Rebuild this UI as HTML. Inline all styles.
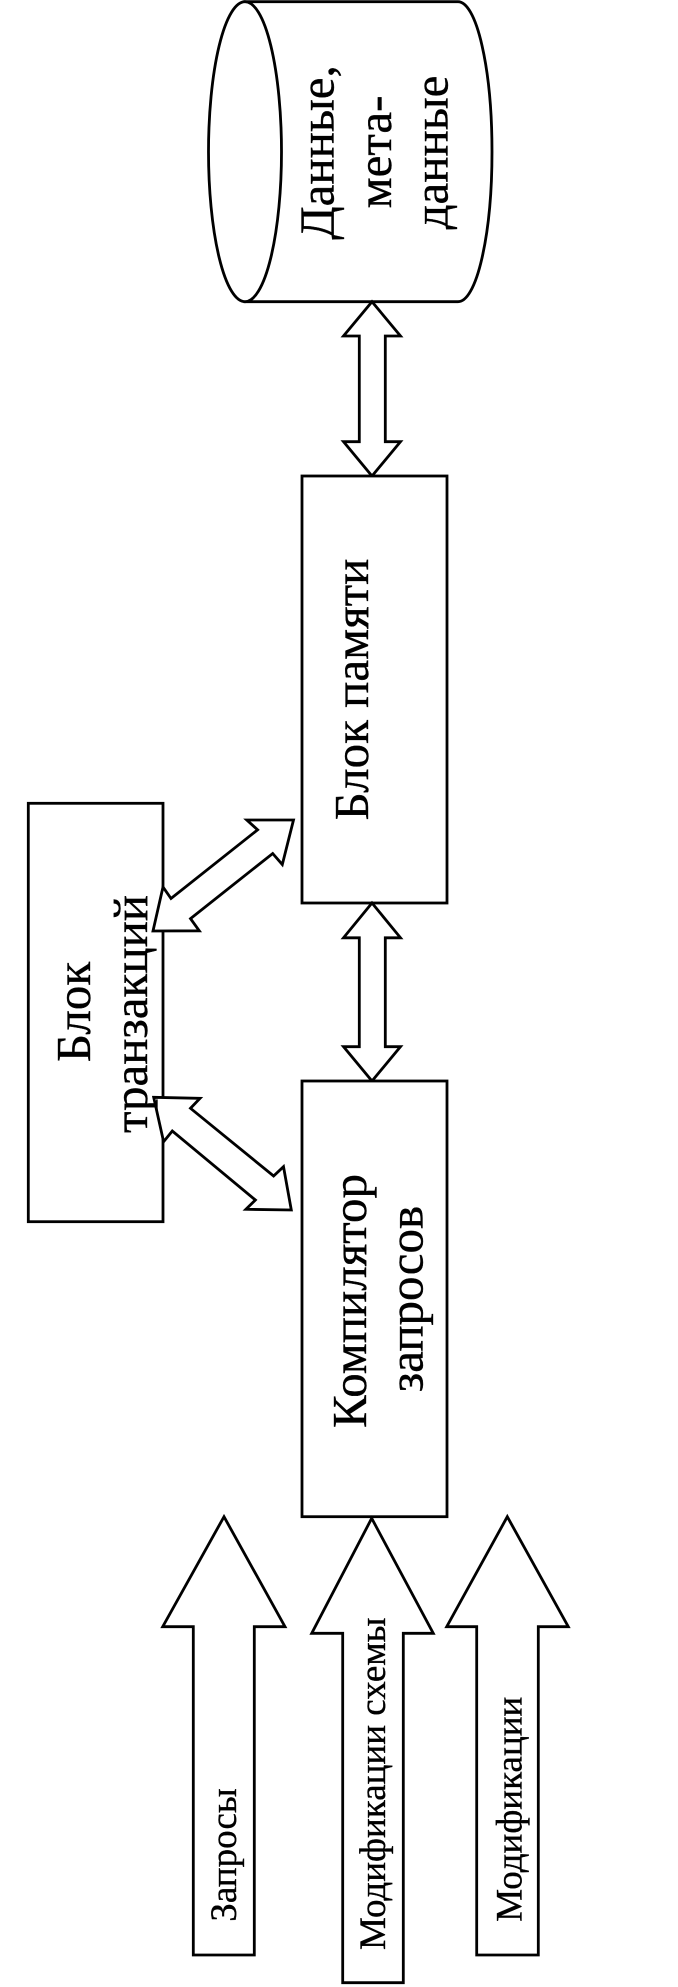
<!DOCTYPE html>
<html>
<head>
<meta charset="utf-8">
<style>
  html, body { margin: 0; padding: 0; background: #fff; }
  body { width: 678px; height: 1987px; overflow: hidden; }
  svg { display: block; }
  text { font-family: "Liberation Serif", "Noto Serif CJK SC", serif; fill: #000; stroke: #000; stroke-width: 0.35; }
</style>
</head>
<body>
<svg width="678" height="1987" viewBox="0 0 678 1987" xmlns="http://www.w3.org/2000/svg">
  <g fill="#fff" stroke="#000" stroke-width="2.8" stroke-linejoin="miter">
    <!-- Cylinder -->
    <path d="M245,1.7 H458 A34,150 0 0 1 458,301.7 H245 Z"/>
    <ellipse cx="245" cy="151.7" rx="36.5" ry="150"/>

    <!-- Double arrow cylinder <-> memory -->
    <polygon points="372,301.7 400.5,336 385.3,336 385.3,441.7 400.5,441.7 372,476 343.5,441.7 359.3,441.7 359.3,336 343.5,336"/>

    <!-- Memory block -->
    <rect x="302" y="476" width="145" height="427"/>

    <!-- Double arrow memory <-> compiler -->
    <polygon points="372,903 400.5,937.8 385.3,937.8 385.3,1046.7 400.5,1046.7 372,1081 343.5,1046.7 359.3,1046.7 359.3,937.8 343.5,937.8"/>

    <!-- Transactions block -->
    <rect x="28.3" y="803.3" width="134.7" height="418.4"/>

    <!-- Compiler block -->
    <rect x="302" y="1081" width="145" height="435.7"/>

    <!-- Diagonal arrow transactions <-> memory -->
    <polygon points="293.5,820 282.3,864.6 272.7,853.5 190.5,918.6 199.3,930.8 153,931 163,887 171,898.5 257.6,829.8 246.8,820"/>

    <!-- Diagonal arrow transactions <-> compiler -->
    <polygon points="153.7,1097.3 200,1098.3 190.5,1108.3 273.6,1176 283.5,1166.7 291.3,1210 245.9,1209.3 255.4,1200 172.3,1131 163.6,1141.7"/>

    <!-- Bottom input arrows -->
    <polygon points="224,1516.7 285,1626.7 254.3,1626.7 254.3,1955 193.3,1955 193.3,1626.7 162.7,1626.7"/>
    <polygon points="371.7,1518.3 433.3,1633.3 403.3,1633.3 403.3,1982.7 342.7,1982.7 342.7,1633.3 311.7,1633.3"/>
    <polygon points="507.3,1516.7 568.3,1626.7 538.3,1626.7 538.3,1955 476.7,1955 476.7,1626.7 446.7,1626.7"/>
  </g>

  <!-- Main labels -->
  <g font-size="49" text-anchor="middle">
    <text transform="translate(333.5,152.5) rotate(-90)">Данные,</text>
    <text transform="translate(391,152) rotate(-90)">мета-</text>
    <text transform="translate(447.5,152.5) rotate(-90)">данные</text>

    <text transform="translate(368,689.5) rotate(-90)">Блок памяти</text>

    <text transform="translate(90,1012) rotate(-90)">Блок</text>
    <text transform="translate(147,1014) rotate(-90)">транзакций</text>

    <text transform="translate(366,1301) rotate(-90)">Компилятор</text>
    <text transform="translate(422.5,1299) rotate(-90)">запросов</text>
  </g>

  <!-- Bottom labels -->
  <g font-size="37" text-anchor="start">
    <text transform="translate(236,1921.7) rotate(-90)">Запросы</text>
    <text transform="translate(385,1950) rotate(-90)">Модификации схемы</text>
    <text transform="translate(521.5,1921.7) rotate(-90)">Модификации</text>
  </g>
</svg>
</body>
</html>
